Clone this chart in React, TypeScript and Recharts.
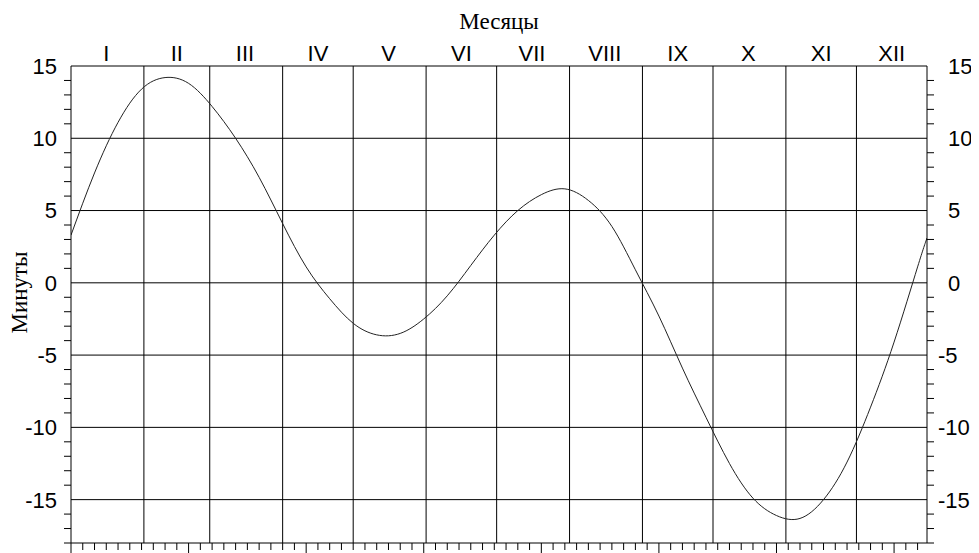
import {
  LineChart,
  Line,
  XAxis,
  YAxis,
  ReferenceLine,
} from "recharts";

// day of year for each reading, and minutes (mean minus apparent solar time)
const days = [1, 11, 21, 31, 41, 51, 61, 71, 81, 91, 101, 111, 121, 131, 141, 151, 161, 171, 181,
  191, 201, 211, 221, 231, 241, 251, 261, 271, 281, 291, 301, 311, 321, 331, 341, 351, 361, 365];
const minutes = [3.3, 7.6, 11.1, 13.4, 14.2, 13.8, 12.2, 10.0, 7.3, 4.1, 1.1, -1.1, -2.8, -3.6, -3.5,
  -2.5, -0.9, 1.2, 3.3, 5.0, 6.1, 6.5, 5.7, 3.9, 0.9, -2.3, -5.9, -9.3, -12.5, -14.9, -16.1, -16.3,
  -15.0, -12.4, -8.6, -4.1, 1.1, 3.1];

const monthNames = ["I", "II", "III", "IV", "V", "VI", "VII", "VIII", "IX", "X", "XI", "XII"];
const monthMid = [16, 46, 75, 106, 136, 167, 197, 228, 259, 289, 320, 350];
const monthStarts = [32, 60, 91, 121, 152, 182, 213, 244, 274, 305, 335];
const dayTicks = Array.from({ length: 73 }, (_, i) => 1 + i * 5);
const minuteTicks = Array.from({ length: 34 }, (_, i) => -18 + i);
const gridMinutes = [-15, -10, -5, 0, 5, 10];

const data = days.map((d, i) => ({ day: d, v: minutes[i] }));

const SANS = "'Liberation Sans', Arial, sans-serif";
const SERIF = "'Liberation Serif', 'Times New Roman', serif";

const LeftTick = ({ x, y, payload }: any) => {
  const v = payload.value;
  if (v % 5 !== 0) return <line x1={x} x2={x - 7} y1={y} y2={y} stroke="#000" />;
  return (
    <text x={x - 14} y={y} dy="0.36em" textAnchor="end" fontFamily={SANS} fontSize={22} fill="#000">
      {v}
    </text>
  );
};

const RightTick = ({ x, y, payload }: any) => {
  const v = payload.value;
  if (v % 5 !== 0) return <line x1={x} x2={x + 7} y1={y} y2={y} stroke="#000" />;
  return (
    <text x={x + 21 - (v < 0 ? 10 : 0)} y={y} dy="0.36em" textAnchor="start" fontFamily={SANS} fontSize={22} fill="#000">
      {v}
    </text>
  );
};

const BottomTick = ({ x, y, index }: any) => (
  <line x1={x} x2={x} y1={y} y2={y + (index % 10 === 0 ? 12 : 7)} stroke="#000" />
);

const MonthTick = ({ x, y, index }: any) => (
  <text x={x} y={y - 5} textAnchor="middle" fontFamily={SANS} fontSize={22} fill="#000">
    {monthNames[index]}
  </text>
);

const YTitle = ({ viewBox }: any) => {
  const cx = viewBox.x + 12;
  const cy = viewBox.y + viewBox.height / 2 - 12;
  return (
    <text
      x={cx}
      y={cy}
      transform={`rotate(-90, ${cx}, ${cy})`}
      textAnchor="middle"
      dy="0.3em"
      fontFamily={SERIF}
      fontSize={23}
      fill="#000"
    >
      Минуты
    </text>
  );
};

export default function App() {
  return (
    <LineChart width={971} height={545} data={data} margin={{ top: 0, right: 0, bottom: 0, left: 0 }}>
      <XAxis
        dataKey="day"
        type="number"
        domain={[1, 365]}
        allowDataOverflow
        ticks={dayTicks}
        interval={0}
        tickSize={0}
        tickMargin={0}
        tick={<BottomTick />}
        height={10}
        axisLine={{ stroke: "#000" }}
      />
      <XAxis
        xAxisId="top"
        dataKey="day"
        orientation="top"
        type="number"
        domain={[1, 365]}
        allowDataOverflow
        ticks={monthMid}
        interval={0}
        tickSize={0}
        tickMargin={0}
        tick={<MonthTick />}
        height={58}
        axisLine={{ stroke: "#000" }}
        label={{ value: "Месяцы", position: "insideTop", offset: 5, fontFamily: SERIF, fontSize: 23, fill: "#000" }}
      />
      <YAxis
        type="number"
        domain={[-18, 15]}
        allowDataOverflow
        ticks={minuteTicks}
        interval={0}
        tickSize={0}
        tickMargin={0}
        tick={<LeftTick />}
        width={63}
        axisLine={{ stroke: "#000" }}
        label={{ content: YTitle }}
      />
      <YAxis
        yAxisId="right"
        orientation="right"
        type="number"
        domain={[-18, 15]}
        allowDataOverflow
        ticks={minuteTicks}
        interval={0}
        tickSize={0}
        tickMargin={0}
        tick={<RightTick />}
        width={52}
        axisLine={{ stroke: "#000" }}
      />
      {monthStarts.map((d) => (
        <ReferenceLine key={`m${d}`} x={d} stroke="#000" strokeWidth={1} />
      ))}
      {gridMinutes.map((m) => (
        <ReferenceLine key={`g${m}`} y={m} stroke="#000" strokeWidth={1} />
      ))}
      <Line
        type="natural"
        dataKey="v"
        stroke="#222"
        strokeWidth={1}
        dot={false}
        isAnimationActive={false}
      />
      <Line
        xAxisId="top"
        yAxisId="right"
        type="natural"
        dataKey="v"
        stroke="none"
        dot={false}
        activeDot={false}
        legendType="none"
        isAnimationActive={false}
      />
    </LineChart>
  );
}
